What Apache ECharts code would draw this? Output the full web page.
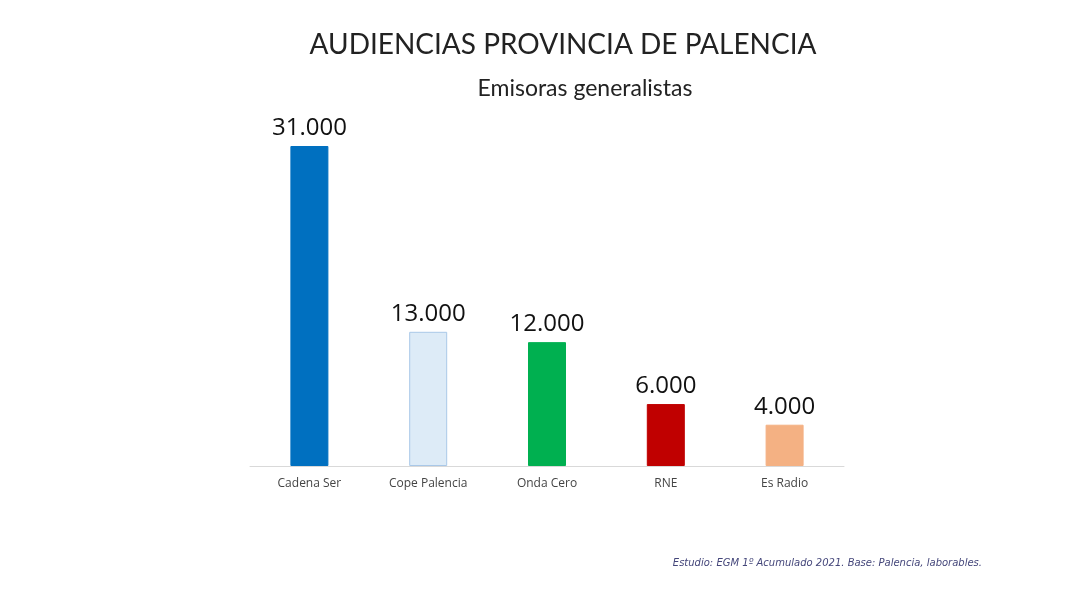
<!DOCTYPE html>
<html>
<head>
<meta charset="utf-8">
<script src="https://cdn.jsdelivr.net/npm/echarts@6/dist/echarts.min.js"></script>
<style>html,body{margin:0;padding:0;background:#fff}#main{width:1080px;height:608px}</style>
</head>
<body>
<div id="main"></div>
<script>
// data
var emisoras = ['Cadena Ser', 'Cope Palencia', 'Onda Cero', 'RNE', 'Es Radio'];
var oyentes = [31000, 13000, 12000, 6000, 4000];
var colores = ['#0070c0', '#ddebf7', '#00b050', '#c00000', '#f4b183'];

var chart = echarts.init(document.getElementById('main'));

var option = {
    backgroundColor: '#fff',
    title: [
        {
            text: 'AUDIENCIAS PROVINCIA DE PALENCIA',
            left: 558, top: 26, textAlign: 'center',
            textStyle: {fontFamily: 'Lato', fontWeight: 'normal', fontSize: 28, color: '#222'}
        },
        {
            text: 'Emisoras generalistas',
            left: 580, top: 72, textAlign: 'center',
            textStyle: {fontFamily: 'Lato', fontWeight: 'normal', fontSize: 23, color: '#222'}
        },
        {
            text: 'Estudio: EGM 1º Acumulado 2021. Base: Palencia, laborables.',
            right: 93, top: 553,
            textStyle: {fontFamily: 'DejaVu Sans', fontStyle: 'italic', fontWeight: 'normal', fontSize: 10, color: '#44467a'}
        }
    ],
    grid: {left: 250, right: 236, top: 146, bottom: 142},
    xAxis: {
        type: 'category',
        data: emisoras,
        axisLine: {lineStyle: {color: '#d9d9d9'}},
        axisTick: {show: false},
        axisLabel: {color: '#444', fontSize: 12, fontFamily: 'Open Sans', margin: 12}
    },
    yAxis: {
        type: 'value', min: 0, max: 31000,
        show: false, splitLine: {show: false}
    },
    series: [{
        type: 'bar',
        barWidth: 38,
        data: oyentes.map(function (v, i) {
            return {
                value: v,
                itemStyle: {color: colores[i], borderColor: i === 1 ? '#a9c8e8' : colores[i], borderWidth: 1}
            };
        }),
        label: {
            show: true, position: 'top', distance: 6,
            fontSize: 24, color: '#111', fontFamily: 'Open Sans',
            formatter: function (p) {
                return p.value.toLocaleString('de-DE');
            }
        }
    }]
};

chart.setOption(option);
</script>
</body>
</html>
